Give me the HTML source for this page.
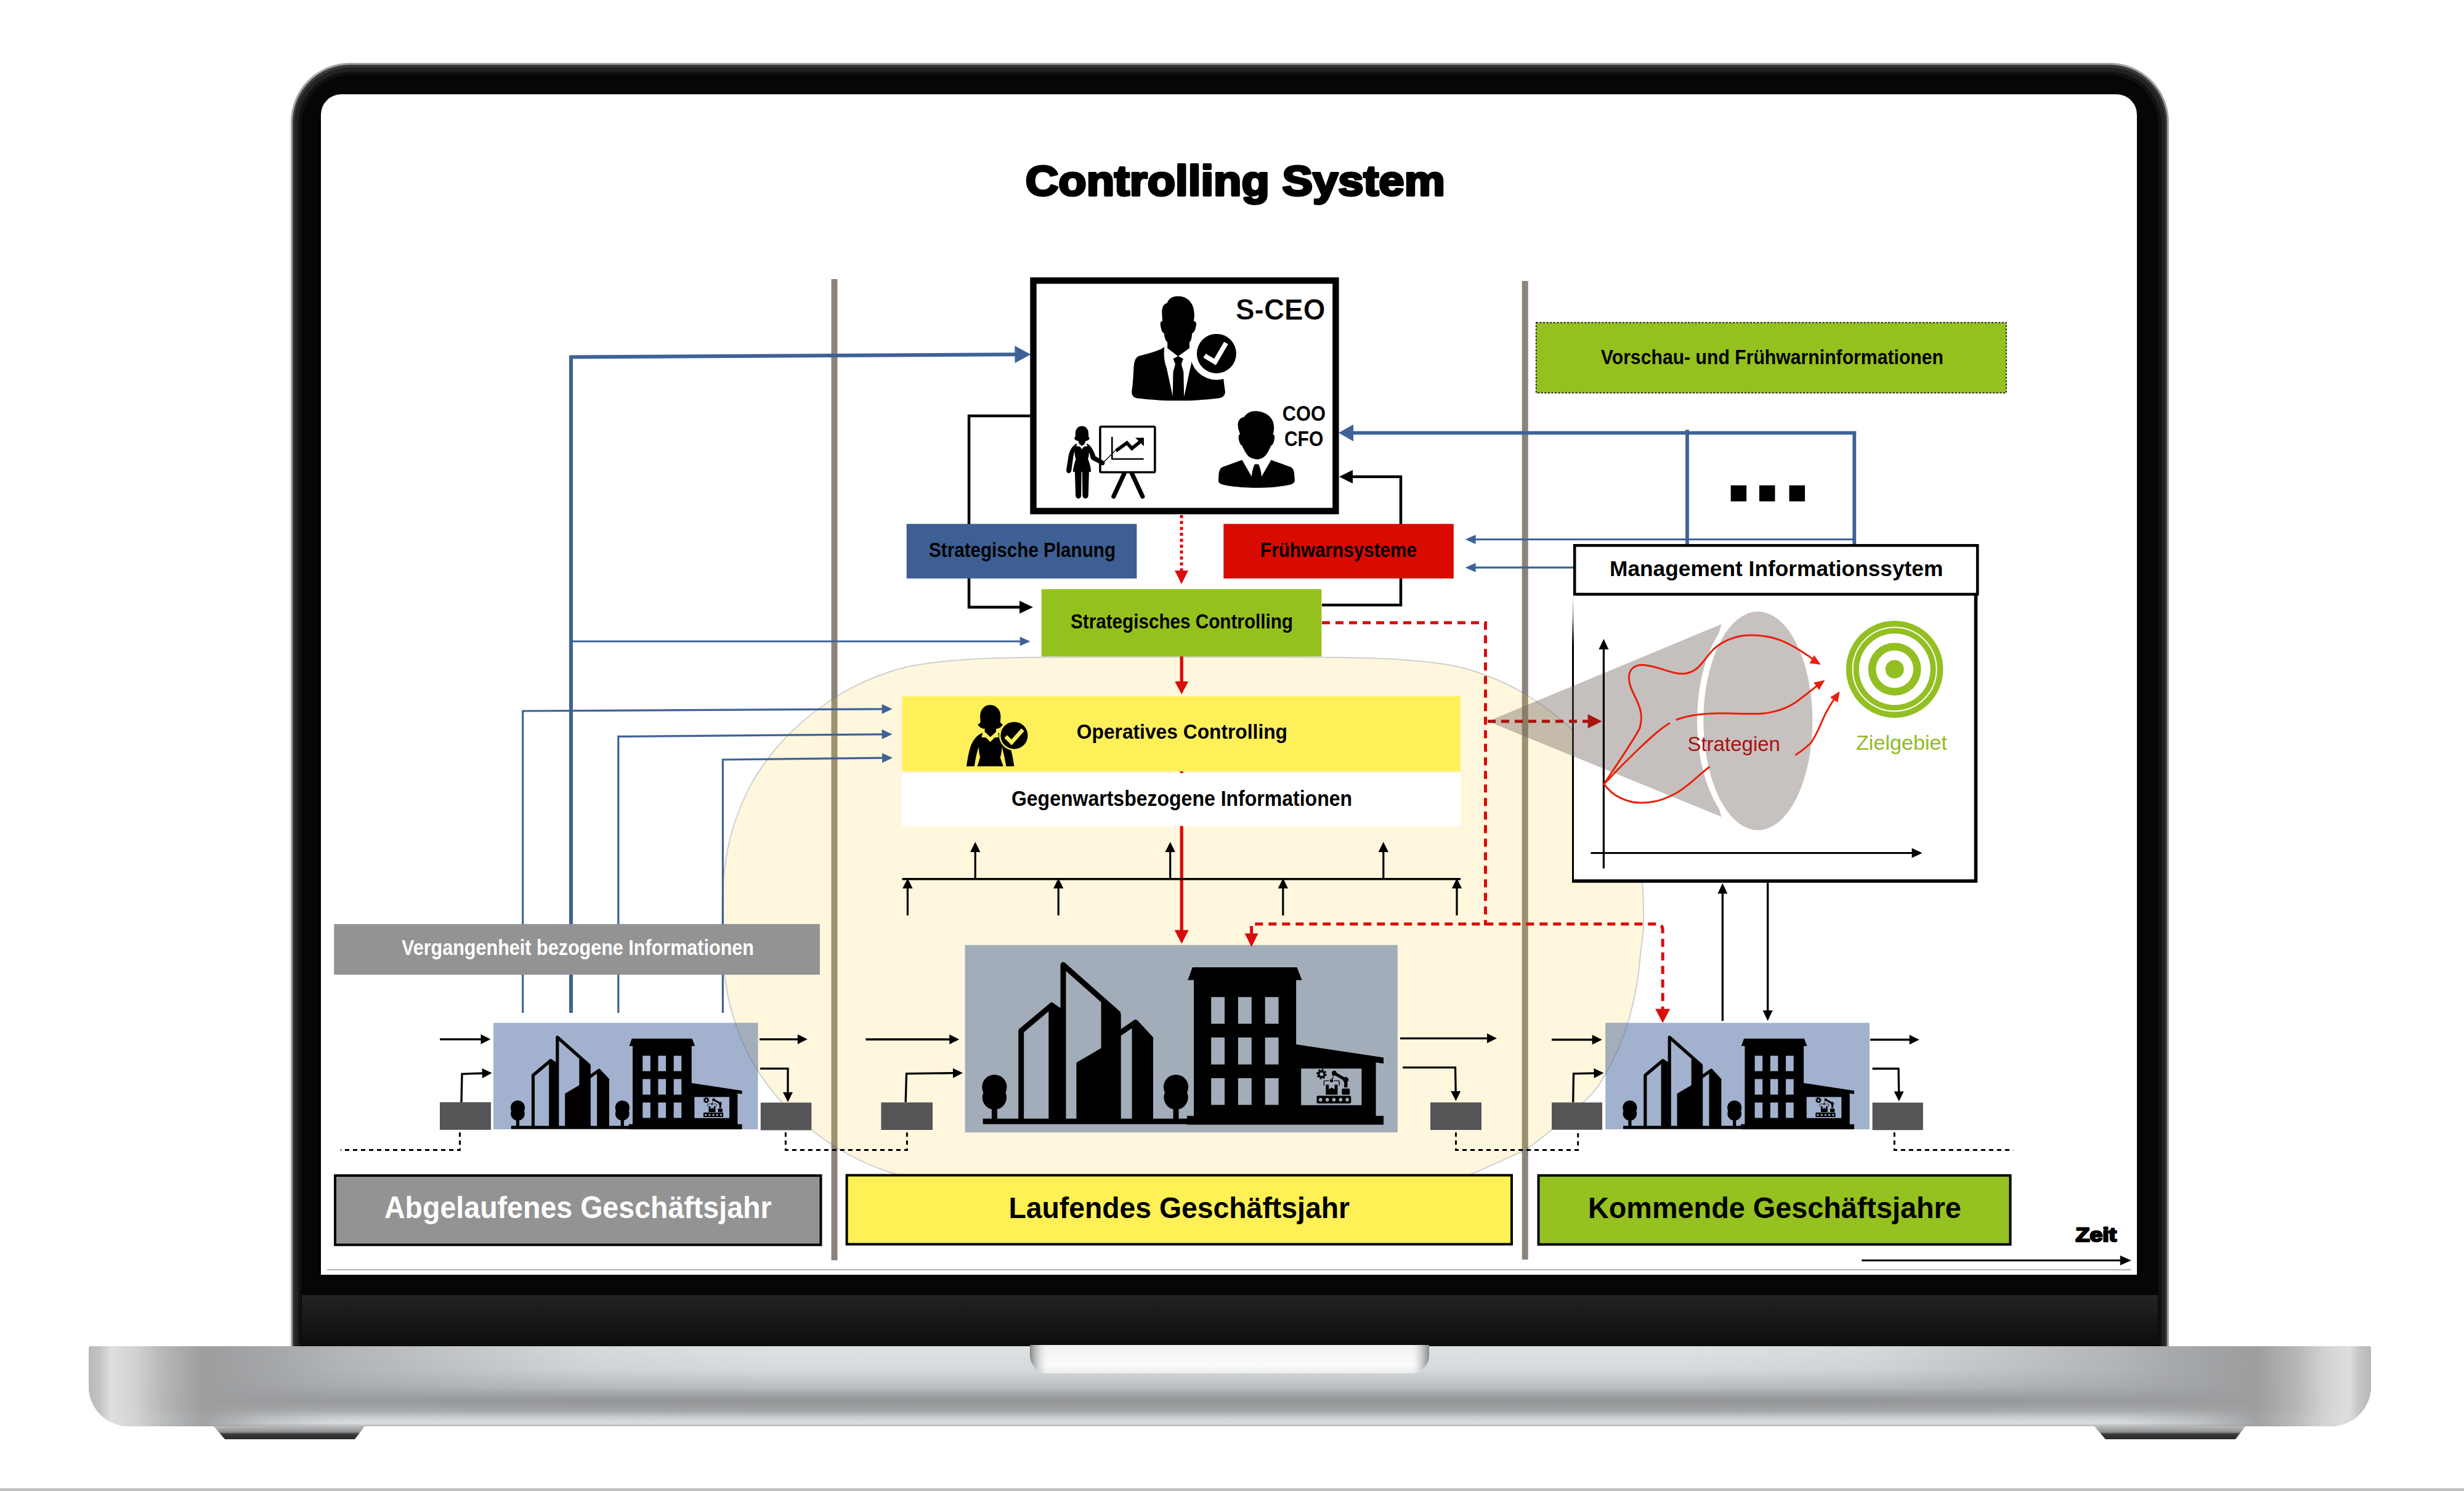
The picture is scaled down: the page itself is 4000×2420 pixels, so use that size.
<!DOCTYPE html>
<html lang="de">
<head>
<meta charset="utf-8">
<title>Controlling System</title>
<style>
html,body{margin:0;padding:0;background:#fff;}
body{width:4000px;height:2420px;overflow:hidden;position:relative;font-family:"Liberation Sans",sans-serif;}
svg{position:absolute;left:0;top:0;display:block;}
text{font-family:"Liberation Sans",sans-serif;}
.b{font-weight:bold;}
</style>
</head>
<body>
<svg width="4000" height="2420" viewBox="0 0 4000 2420">
<defs>
  <linearGradient id="baseV" x1="0" y1="0" x2="0" y2="1">
    <stop offset="0" stop-color="#a2a4a6"/>
    <stop offset="0.45" stop-color="#a3a5a7"/>
    <stop offset="0.70" stop-color="#9b9d9f"/>
    <stop offset="0.80" stop-color="#a9abad"/>
    <stop offset="0.90" stop-color="#cdd0d2"/>
    <stop offset="0.965" stop-color="#d9dcde"/>
    <stop offset="1" stop-color="#b4b6b8"/>
  </linearGradient>
  <linearGradient id="baseTop" x1="0" y1="0" x2="0" y2="1">
    <stop offset="0" stop-color="#dfe2e3" stop-opacity="1"/>
    <stop offset="0.30" stop-color="#d6d9db" stop-opacity="1"/>
    <stop offset="0.52" stop-color="#c2c5c7" stop-opacity="0.75"/>
    <stop offset="0.66" stop-color="#8e9092" stop-opacity="0.55"/>
    <stop offset="0.80" stop-color="#8e9092" stop-opacity="0.25"/>
    <stop offset="0.88" stop-color="#8e9092" stop-opacity="0"/>
  </linearGradient>
  <linearGradient id="hmGrad" x1="0" y1="0" x2="1" y2="0">
    <stop offset="0.05" stop-color="#000"/>
    <stop offset="0.12" stop-color="#555"/>
    <stop offset="0.22" stop-color="#ddd"/>
    <stop offset="0.30" stop-color="#fff"/>
    <stop offset="0.70" stop-color="#fff"/>
    <stop offset="0.78" stop-color="#ddd"/>
    <stop offset="0.88" stop-color="#555"/>
    <stop offset="0.95" stop-color="#000"/>
  </linearGradient>
  <mask id="hm" maskUnits="userSpaceOnUse" x="144" y="2185" width="3705" height="130"><rect x="144" y="2185" width="3705" height="130" fill="url(#hmGrad)"/></mask>
  <linearGradient id="baseH" x1="0" y1="0" x2="1" y2="0">
    <stop offset="0" stop-color="#b6b8ba" stop-opacity="1"/>
    <stop offset="0.005" stop-color="#c2c4c6" stop-opacity="1"/>
    <stop offset="0.0095" stop-color="#dcdee0" stop-opacity="1"/>
    <stop offset="0.020" stop-color="#d3d5d7" stop-opacity="0.95"/>
    <stop offset="0.034" stop-color="#b4b6b8" stop-opacity="0.9"/>
    <stop offset="0.050" stop-color="#9b9d9f" stop-opacity="0.9"/>
    <stop offset="0.075" stop-color="#9b9d9f" stop-opacity="0.4"/>
    <stop offset="0.11" stop-color="#9b9d9f" stop-opacity="0"/>
    <stop offset="0.89" stop-color="#9b9d9f" stop-opacity="0"/>
    <stop offset="0.925" stop-color="#9b9d9f" stop-opacity="0.4"/>
    <stop offset="0.950" stop-color="#9b9d9f" stop-opacity="0.9"/>
    <stop offset="0.966" stop-color="#b4b6b8" stop-opacity="0.9"/>
    <stop offset="0.980" stop-color="#d3d5d7" stop-opacity="0.95"/>
    <stop offset="0.9905" stop-color="#dcdee0" stop-opacity="1"/>
    <stop offset="0.995" stop-color="#c2c4c6" stop-opacity="1"/>
    <stop offset="1" stop-color="#b6b8ba" stop-opacity="1"/>
  </linearGradient>
  <linearGradient id="bezelV" x1="0" y1="0" x2="0" y2="1">
    <stop offset="0" stop-color="#232323"/>
    <stop offset="1" stop-color="#0c0c0c"/>
  </linearGradient>
  <linearGradient id="notchV" x1="0" y1="0" x2="0" y2="1">
    <stop offset="0" stop-color="#f1f2f3"/>
    <stop offset="0.7" stop-color="#fbfbfb"/>
    <stop offset="1" stop-color="#eceeef"/>
  </linearGradient>
  <linearGradient id="notchH" x1="0" y1="0" x2="1" y2="0">
    <stop offset="0" stop-color="#77797b" stop-opacity="0.9"/>
    <stop offset="0.045" stop-color="#e4e5e6" stop-opacity="0"/>
    <stop offset="0.955" stop-color="#e4e5e6" stop-opacity="0"/>
    <stop offset="1" stop-color="#77797b" stop-opacity="0.9"/>
  </linearGradient>
  <linearGradient id="footV" x1="0" y1="0" x2="0" y2="1">
    <stop offset="0" stop-color="#b9bbbd"/>
    <stop offset="0.45" stop-color="#8b8d8f"/>
    <stop offset="0.6" stop-color="#3a3a3c"/>
    <stop offset="1" stop-color="#2a2a2c"/>
  </linearGradient>
  <clipPath id="screenClip"><path d="M521,2069 V186 a33,33 0 0 1 33,-33 H3436 a33,33 0 0 1 33,33 V2069 Z"/></clipPath>

  <!-- building artwork in big-crop coordinates -->
  <g id="robot">
    <rect x="505" y="835" width="595" height="133" rx="22" fill="#000"/>
    <g fill="currentColor"><circle cx="572" cy="904" r="30"/><circle cx="688" cy="904" r="30"/><circle cx="803" cy="904" r="30"/><circle cx="918" cy="904" r="30"/><circle cx="1033" cy="904" r="30"/></g>
    <rect x="663" y="645" width="204" height="172" rx="8" fill="#000"/>
    <path d="M715,640 H815 V722 L765,695 L715,722 Z" fill="currentColor"/>
    <path d="M632,652 V592 Q632,576 648,576 H712 M812,576 H880 Q896,576 896,592 V652" fill="none" stroke="#000" stroke-width="15" stroke-linecap="round"/>
    <rect x="940" y="712" width="138" height="105" rx="22" fill="#000"/>
    <rect x="981" y="600" width="56" height="92" fill="#000"/>
    <circle cx="1008" cy="560" r="48" fill="#000"/>
    <path d="M1008,560 L808,445" stroke="#000" stroke-width="52"/>
    <circle cx="808" cy="445" r="42" fill="#000"/>
    <path d="M798,478 L770,560" stroke="#000" stroke-width="20" stroke-dasharray="26 18"/>
    <circle cx="762" cy="576" r="29" fill="#000"/>
    <circle cx="590" cy="462" r="72" fill="none" stroke="#000" stroke-width="34" stroke-dasharray="30 26.500"/>
    <circle cx="590" cy="462" r="50" fill="none" stroke="#000" stroke-width="36"/>
  </g>
  <g id="bld">
    <rect x="483" y="707" width="760" height="20" fill="#000"/>
    <rect x="1225" y="697" width="715" height="32" fill="#000"/>
    <!-- trees -->
    <g fill="#000">
      <circle cx="525" cy="592" r="45"/><circle cx="525" cy="630" r="44"/><rect x="515" y="660" width="20" height="50"/>
      <circle cx="1185" cy="592" r="45"/><circle cx="1185" cy="630" r="44"/><rect x="1175" y="660" width="20" height="50"/>
    </g>
    <!-- skyscraper 1 -->
    <path d="M622,712 V388 L733,295 L770,322" fill="none" stroke="#000" stroke-width="20" stroke-linejoin="round"/>
    <path d="M722,300 L733,284 L776,312 V712 H722 Z" fill="#000"/>
    <!-- skyscraper 2 -->
    <path d="M775,712 V148 L978,328" fill="none" stroke="#000" stroke-width="20" stroke-linejoin="round"/>
    <path d="M913,262 L985,326 V712 H913 Z" fill="#000"/>
    <path d="M826,505 L915,453 V712 H826 Z" fill="#000" stroke="#000" stroke-width="6" stroke-linejoin="round"/>
    <!-- skyscraper 3 -->
    <path d="M983,395 L1038,357 L1093,416" fill="none" stroke="#000" stroke-width="20" stroke-linejoin="round" stroke-linecap="round"/>
    <path d="M1025,362 L1038,350 L1102,416 V712 H1025 Z" fill="#000"/>
    <!-- main building -->
    <path d="M1245,157 H1625 L1643,203 H1228 Z" fill="#000"/>
    <rect x="1250" y="200" width="372" height="505" fill="#000"/>
    <g fill="currentColor">
      <rect x="1313" y="265" width="49" height="97"/><rect x="1411" y="265" width="49" height="97"/><rect x="1509" y="265" width="49" height="97"/>
      <rect x="1313" y="412" width="49" height="98"/><rect x="1411" y="412" width="49" height="98"/><rect x="1509" y="412" width="49" height="98"/>
      <rect x="1313" y="560" width="49" height="97"/><rect x="1411" y="560" width="49" height="97"/><rect x="1509" y="560" width="49" height="97"/>
    </g>
    <!-- annex -->
    <path d="M1620,437 L1940,485 V507 L1912,503 V700 H1620 Z" fill="#000"/>
    <rect x="1640" y="525" width="220" height="133" fill="currentColor"/>
    <use href="#robot" transform="translate(1590.400,448) scale(0.21039)"/>
  </g>
  <clipPath id="smallBoxes"><rect x="801" y="1660.200" width="429.400" height="172.800"/><rect x="2606.300" y="1660.200" width="428.700" height="172.800"/></clipPath>
  <path id="blob" d="M1920.2,1066.5 C1960.2,1066.5 2001.9,1066.5 2040.2,1066.5 C2078.6,1066.5 2113.9,1066.2 2150.2,1066.7 C2186.6,1067.2 2224.8,1067.4 2258.2,1069.5 C2291.8,1071.6 2325.6,1074.7 2351.2,1079.1 C2376.9,1083.5 2391.8,1088.3 2412.2,1096.0 C2432.8,1103.7 2453.6,1113.2 2474.2,1125.5 C2494.9,1137.8 2518.2,1154.9 2536.2,1170.1 C2554.2,1185.3 2567.9,1199.0 2582.2,1216.5 C2596.6,1234.0 2610.9,1253.9 2622.2,1274.9 C2633.6,1296.0 2643.2,1320.2 2650.2,1342.8 C2657.2,1365.4 2661.2,1385.1 2664.2,1410.7 C2667.2,1436.3 2668.2,1475.1 2668.2,1496.5 C2668.2,1517.9 2666.1,1522.1 2664.2,1539.0 C2662.4,1555.9 2660.7,1578.3 2657.2,1598.0 C2653.8,1617.7 2648.4,1640.4 2643.7,1657.1 C2638.9,1673.8 2634.8,1684.6 2628.8,1698.4 C2622.9,1712.2 2616.1,1726.4 2608.2,1739.7 C2600.4,1753.0 2596.7,1762.4 2581.7,1778.1 C2566.7,1793.8 2535.2,1819.8 2518.2,1834.1 C2501.3,1848.4 2492.9,1855.6 2479.8,1863.7 C2466.8,1871.8 2456.0,1875.6 2440.1,1882.8 C2424.1,1890.0 2399.1,1901.9 2384.2,1907.0 C2369.4,1912.1 2372.2,1910.8 2351.2,1913.5 C2330.2,1916.2 2291.8,1921.4 2258.2,1923.5 C2224.8,1925.6 2186.6,1925.8 2150.2,1926.3 C2113.9,1926.8 2078.6,1926.5 2040.2,1926.5 C2001.9,1926.5 1960.2,1926.5 1920.2,1926.5 C1880.2,1926.5 1838.6,1926.5 1800.2,1926.5 C1761.9,1926.5 1726.6,1926.8 1690.2,1926.3 C1653.9,1925.8 1615.8,1925.6 1582.2,1923.5 C1548.8,1921.4 1514.9,1918.3 1489.2,1913.9 C1463.6,1909.5 1448.8,1904.7 1428.2,1897.0 C1407.8,1889.3 1386.9,1879.8 1366.2,1867.5 C1345.6,1855.2 1322.2,1838.1 1304.2,1822.9 C1286.2,1807.7 1272.6,1794.0 1258.2,1776.5 C1243.9,1759.0 1229.6,1739.1 1218.2,1718.1 C1206.9,1697.0 1197.2,1672.8 1190.2,1650.2 C1183.2,1627.6 1179.2,1607.9 1176.2,1582.3 C1173.2,1556.7 1172.2,1525.1 1172.2,1496.5 C1172.2,1467.9 1173.2,1436.3 1176.2,1410.7 C1179.2,1385.1 1183.2,1365.4 1190.2,1342.8 C1197.2,1320.2 1206.9,1296.0 1218.2,1274.9 C1229.6,1253.9 1243.9,1234.0 1258.2,1216.5 C1272.6,1199.0 1286.2,1185.3 1304.2,1170.1 C1322.2,1154.9 1345.6,1137.8 1366.2,1125.5 C1386.9,1113.2 1407.8,1103.7 1428.2,1096.0 C1448.8,1088.3 1463.6,1083.5 1489.2,1079.1 C1514.9,1074.7 1548.8,1071.6 1582.2,1069.5 C1615.8,1067.4 1653.9,1067.2 1690.2,1066.7 C1726.6,1066.2 1761.9,1066.5 1800.2,1066.5 C1838.6,1066.5 1880.2,1066.5 1920.2,1066.5 Z"/>
  <linearGradient id="fadeV" x1="0" y1="0" x2="0" y2="1"><stop offset="0" stop-color="#000" stop-opacity="0.05"/><stop offset="0.06" stop-color="#000" stop-opacity="0.25"/><stop offset="0.16" stop-color="#000" stop-opacity="1"/><stop offset="1" stop-color="#000" stop-opacity="1"/></linearGradient>
</defs>

<!-- ============ LAPTOP ============ -->
<g id="laptop">
  <!-- lid -->
  <path d="M472,2192 V198 a96,96 0 0 1 96,-96 H3425 a96,96 0 0 1 96,96 V2192 Z" fill="#a4a4a4"/>
  <path d="M475,2192 V198.500 a93.500,93.500 0 0 1 93.500,-93.500 H3424.500 a93.500,93.500 0 0 1 93.500,93.500 V2192 Z" fill="#3a3a3a"/>
  <path d="M478,2192 V200 a90.500,90.500 0 0 1 90.500,-90.500 H3424.500 a90.500,90.500 0 0 1 90.500,90.500 V2192 Z" fill="#222222"/>
  <path d="M484,2192 V202 a86,86 0 0 1 86,-86 H3423 a86,86 0 0 1 86,86 V2192 Z" fill="#111111"/>
  <path d="M489,2192 V204 a83,83 0 0 1 83,-83 H3421 a83,83 0 0 1 83,83 V2192 Z" fill="#060606"/>
  <!-- lower bezel -->
  <path d="M490,2102 H3503 V2188 H504 a14,14 0 0 1 -14,-14 Z" fill="url(#bezelV)"/>
  <!-- screen -->
  <path d="M521,2069 V186 a33,33 0 0 1 33,-33 H3436 a33,33 0 0 1 33,33 V2069 Z" fill="#ffffff"/>
  <!-- base -->
  <path d="M148,2185 H3845 a4,4 0 0 1 4,4 V2250 a65,65 0 0 1 -65,65 H209 a65,65 0 0 1 -65,-65 V2189 a4,4 0 0 1 4,-4 Z" fill="url(#baseV)"/>
  <g mask="url(#hm)"><path d="M148,2185 H3845 a4,4 0 0 1 4,4 V2250 a65,65 0 0 1 -65,65 H209 a65,65 0 0 1 -65,-65 V2189 a4,4 0 0 1 4,-4 Z" fill="url(#baseTop)"/></g>
  <path d="M148,2185 H3845 a4,4 0 0 1 4,4 V2250 a65,65 0 0 1 -65,65 H209 a65,65 0 0 1 -65,-65 V2189 a4,4 0 0 1 4,-4 Z" fill="url(#baseH)"/>
  <!-- notch -->
  <path d="M1672,2183 H2320 V2200 a29,29 0 0 1 -29,29 H1701 a29,29 0 0 1 -29,-29 Z" fill="url(#notchV)"/>
  <path d="M1672,2183 H2320 V2200 a29,29 0 0 1 -29,29 H1701 a29,29 0 0 1 -29,-29 Z" fill="url(#notchH)"/>
  <!-- feet -->
  <path d="M347,2315 H592 L576,2336 H365 Z" fill="url(#footV)"/>
  <path d="M3400,2315 H3645 L3629,2336 H3418 Z" fill="url(#footV)"/>
  <!-- bottom page line -->
  <rect x="0" y="2415.500" width="4000" height="4.500" fill="#bfbfbf"/>
</g>

<!-- ============ SCREEN CONTENT ============ -->
<g id="content" clip-path="url(#screenClip)">

<!-- vertical separators -->
<rect x="1349.500" y="453" width="10" height="1592.500" fill="#8b847d"/>
<rect x="2470.700" y="456" width="10" height="1588.500" fill="#8b847d"/>
<!-- small building boxes -->
<rect x="801" y="1660.200" width="429.400" height="172.800" fill="#a2b1cd"/>
<rect x="2606.300" y="1660.200" width="428.700" height="172.800" fill="#a2b1cd"/>


<!-- big translucent yellow area -->
<use href="#blob" fill="#facd37" fill-opacity="0.165"/>
<g clip-path="url(#smallBoxes)"><use href="#blob" fill="#a3aeba"/></g>
<use href="#blob" fill="none" stroke="#5d6f8c" stroke-opacity="0.30" stroke-width="2"/>
<g color="#a2b1cd" transform="translate(705.400,1645.400) scale(0.25730)"><use href="#bld"/></g>
<g color="#a2b1cd" transform="translate(2510.800,1645.400) scale(0.25730)"><use href="#bld"/></g>

<!-- lines that run beneath boxes -->
<path d="M927,1644 L927,579.4 L1648.4,575.3" fill="none" stroke="#3f6296" stroke-width="6" stroke-linejoin="miter"/>
<path d="M1673.4,575.2 L1647.5,589.3 L1647.3,561.3 Z" fill="#3f6296"/>
<path d="M928,1041 L1656.6,1041" fill="none" stroke="#3f6296" stroke-width="3.2" stroke-linejoin="miter"/>
<path d="M1672.6,1041 L1655.6,1048.5 L1655.6,1033.5 Z" fill="#3f6296"/>
<path d="M848.7,1644 L848.7,1154 L1432.6,1150.8" fill="none" stroke="#3f6296" stroke-width="3.2" stroke-linejoin="miter"/>
<path d="M1448.6,1150.7 L1431.6,1158.8 L1431.6,1142.8 Z" fill="#3f6296"/>
<path d="M1003.8,1644 L1003.8,1195.4 L1432.6,1191.8" fill="none" stroke="#3f6296" stroke-width="3.2" stroke-linejoin="miter"/>
<path d="M1448.6,1191.7 L1431.7,1199.8 L1431.5,1183.8 Z" fill="#3f6296"/>
<path d="M1173.4,1644 L1173.4,1233 L1433,1230.2" fill="none" stroke="#3f6296" stroke-width="3.2" stroke-linejoin="miter"/>
<path d="M1449,1230 L1432.1,1238.2 L1431.9,1222.2 Z" fill="#3f6296"/>
<path d="M1673,675 L1573,675 L1573,985.5 L1656,985.5" fill="none" stroke="#000" stroke-width="4.5" stroke-linejoin="miter"/>
<path d="M1677,985.5 L1655,996 L1655,975 Z" fill="#000"/>
<path d="M2146,982 L2274,982 L2274,773.7 L2195,773.7" fill="none" stroke="#000" stroke-width="4.5" stroke-linejoin="miter"/>
<path d="M2174,773.7 L2196,762.7 L2196,784.7 Z" fill="#000"/>
<path d="M1918.2,1060 V1108 M1918.2,1250 V1511" stroke="#da0b0b" stroke-width="5.3" fill="none"/>
<path d="M2739,697.500 V886 M3010.3,700 V886" stroke="#3f6296" stroke-width="5.8" fill="none"/>
<path d="M3013.2,702.6 L2196,702.6" fill="none" stroke="#3f6296" stroke-width="5.8" stroke-linejoin="miter"/>
<path d="M2173,702.6 L2197,689 L2197,716.2 Z" fill="#3f6296"/>
<path d="M3010,875.5 L2394.6,875.5" fill="none" stroke="#3f6296" stroke-width="3.2" stroke-linejoin="miter"/>
<path d="M2378.6,875.5 L2395.6,868 L2395.6,883 Z" fill="#3f6296"/>
<path d="M2556,921.2 L2394.6,921.2" fill="none" stroke="#3f6296" stroke-width="3.2" stroke-linejoin="miter"/>
<path d="M2378.6,921.2 L2395.6,913.7 L2395.6,928.7 Z" fill="#3f6296"/>
<!-- ===== boxes ===== -->
<!-- CEO box -->
<rect x="1677.500" y="455.400" width="490.900" height="374.100" fill="#fff" stroke="#000" stroke-width="10.400"/>
<!-- Strategische Planung / Fruehwarnsysteme / Strategisches Controlling -->
<rect x="1471.700" y="850.300" width="373.700" height="88.600" fill="#3d5f93"/>
<rect x="1986.300" y="850.300" width="373.500" height="88.600" fill="#d90b00"/>
<rect x="1690.800" y="956.200" width="454.600" height="109.300" fill="#95c11f"/>
<!-- Operatives Controlling + Gegenwart -->
<rect x="1464.500" y="1130.200" width="906.400" height="121.800" fill="#fff05a"/>
<rect x="1464.500" y="1254.700" width="906.400" height="86" fill="#ffffff"/>
<!-- Vorschau box -->
<rect x="2493.700" y="523.600" width="763.300" height="114" fill="#95c11f" stroke="#111" stroke-width="1.600" stroke-dasharray="3.200 2.400"/>
<!-- Vergangenheit -->
<rect x="542.300" y="1499.800" width="788.600" height="82.200" fill="#939393"/>
<!-- centre building box -->
<rect x="1566.600" y="1533.800" width="702.200" height="304.200" fill="#a2adb9"/>
<g color="#a2adb9" transform="translate(1380,1500) scale(0.44643)"><use href="#bld"/></g>
<!-- dark grey stock boxes -->
<g fill="#555557">
  <rect x="714" y="1789" width="83" height="44.800"/>
  <rect x="1234.800" y="1789.600" width="82.600" height="44.800"/>
  <rect x="1430.400" y="1789.300" width="83.600" height="44.700"/>
  <rect x="2322" y="1789.300" width="83" height="44.700"/>
  <rect x="2519" y="1789.400" width="82" height="44.300"/>
  <rect x="3039.600" y="1789.600" width="82.200" height="44.600"/>
</g>
<!-- year boxes -->
<rect x="544" y="1908" width="788.500" height="112.500" fill="#939393" stroke="#000" stroke-width="4"/>
<rect x="1374.600" y="1907.500" width="1079.400" height="112" fill="#fff056" stroke="#000" stroke-width="4"/>
<rect x="2497.500" y="1907.800" width="766" height="112" fill="#95c121" stroke="#000" stroke-width="4"/>
<!-- MIS chart box -->
<rect x="2553" y="966" width="654.500" height="464" fill="#fff"/>
<rect x="2552" y="972" width="3" height="460" fill="url(#fadeV)"/>
<path d="M2552,1430 H3210 M3207.500,1432.500 V960" stroke="#000" stroke-width="5.500" fill="none"/>
<!-- cone + lens -->
<path d="M2415.400,1170.700 L2794.600,1013 Q2745,1170 2794.600,1325.700 Z" fill="#6f625d" fill-opacity="0.40"/>
<ellipse cx="2843.500" cy="1170" rx="88.500" ry="177.500" fill="#fff"/>
<ellipse cx="2853.800" cy="1170" rx="88.500" ry="177.500" fill="#c7c1bf"/>
<!-- MIS title box -->
<rect x="2556.200" y="885.300" width="654" height="79.200" fill="#fff" stroke="#000" stroke-width="4.600"/>
<!-- screen bottom hairline -->
<rect x="531" y="2059.800" width="2929" height="2.200" fill="#b4b4b4"/>

<!-- ===== lines & arrows ===== -->
<path d="M1918.2,1127 L1907.2,1106 H1929.2 Z M1918.2,1531.700 L1906.700,1509.500 H1929.700 Z" fill="#da0b0b"/>
<path d="M1918,836 L1918,927" fill="none" stroke="#da0b0b" stroke-width="5" stroke-linejoin="miter" stroke-dasharray="5 4.6"/>
<path d="M1918,948 L1907,926 L1929,926 Z" fill="#da0b0b"/>
<path d="M2146,1010.700 H2411.500 V1502" fill="none" stroke="#da0b0b" stroke-width="5" stroke-dasharray="13 9"/>
<path d="M2031.600,1516 V1499.700 H2689 Q2699.200,1499.700 2699.200,1510 V1639" fill="none" stroke="#da0b0b" stroke-width="5" stroke-dasharray="13 9"/>
<path d="M2031.600,1537 L2020.600,1515 H2042.600 Z M2699.200,1660.300 L2687.200,1637.500 H2711.200 Z" fill="#da0b0b"/>
<path d="M2415,1170.7 L2578.6,1170.7" fill="none" stroke="#a8140f" stroke-width="5" stroke-linejoin="miter" stroke-dasharray="13 9"/>
<path d="M2600.6,1170.7 L2577.6,1182.2 L2577.6,1159.2 Z" fill="#a8140f"/>
<path d="M2796.4,1657 L2796.4,1449.5" fill="none" stroke="#000" stroke-width="3.4" stroke-linejoin="miter"/>
<path d="M2796.4,1433.5 L2804.4,1450.5 L2788.4,1450.5 Z" fill="#000"/>
<path d="M2869.7,1433 L2869.7,1641" fill="none" stroke="#000" stroke-width="3.4" stroke-linejoin="miter"/>
<path d="M2869.7,1657 L2861.7,1640 L2877.7,1640 Z" fill="#000"/>
<path d="M2603.4,1409.4 L2603.4,1053" fill="none" stroke="#000" stroke-width="3.2" stroke-linejoin="miter"/>
<path d="M2603.4,1037 L2611.4,1054 L2595.4,1054 Z" fill="#000"/>
<path d="M2582.5,1384.5 L3104.6,1384.5" fill="none" stroke="#000" stroke-width="3.2" stroke-linejoin="miter"/>
<path d="M3120.6,1384.5 L3103.6,1392.5 L3103.6,1376.5 Z" fill="#000"/>
<path d="M3022.3,2045.7 L3442.8,2045.7" fill="none" stroke="#000" stroke-width="3" stroke-linejoin="miter"/>
<path d="M3459.8,2045.7 L3441.8,2053.7 L3441.8,2037.7 Z" fill="#000"/>
<path d="M1464.500,1426.700 H2371" stroke="#000" stroke-width="3.400" fill="none"/>
<path d="M1583.2,1428 L1583.2,1382" fill="none" stroke="#000" stroke-width="3.2" stroke-linejoin="miter"/>
<path d="M1583.2,1366.5 L1591.4,1383 L1575,1383 Z" fill="#000"/>
<path d="M1899.7,1428 L1899.7,1382" fill="none" stroke="#000" stroke-width="3.2" stroke-linejoin="miter"/>
<path d="M1899.7,1366.5 L1907.9,1383 L1891.5,1383 Z" fill="#000"/>
<path d="M2245.8,1428 L2245.8,1382" fill="none" stroke="#000" stroke-width="3.2" stroke-linejoin="miter"/>
<path d="M2245.8,1366.5 L2254,1383 L2237.6,1383 Z" fill="#000"/>
<path d="M1473.4,1485.8 L1473.4,1441" fill="none" stroke="#000" stroke-width="3.2" stroke-linejoin="miter"/>
<path d="M1473.4,1425.5 L1481.6,1442 L1465.2,1442 Z" fill="#000"/>
<path d="M1718.2,1485.8 L1718.2,1441" fill="none" stroke="#000" stroke-width="3.2" stroke-linejoin="miter"/>
<path d="M1718.2,1425.5 L1726.4,1442 L1710,1442 Z" fill="#000"/>
<path d="M2082.8,1485.8 L2082.8,1441" fill="none" stroke="#000" stroke-width="3.2" stroke-linejoin="miter"/>
<path d="M2082.8,1425.5 L2091,1442 L2074.6,1442 Z" fill="#000"/>
<path d="M2365,1485.8 L2365,1441" fill="none" stroke="#000" stroke-width="3.2" stroke-linejoin="miter"/>
<path d="M2365,1425.5 L2373.2,1442 L2356.8,1442 Z" fill="#000"/>
<path d="M714,1686.8 L781.5,1686.8" fill="none" stroke="#000" stroke-width="3.3" stroke-linejoin="miter"/>
<path d="M796.5,1686.8 L780.5,1694.8 L780.5,1678.8 Z" fill="#000"/>
<path d="M749,1789 L750,1743 L783.7,1742" fill="none" stroke="#000" stroke-width="3.3" stroke-linejoin="miter"/>
<path d="M798.7,1741.6 L782.9,1750.1 L782.5,1734.1 Z" fill="#000"/>
<path d="M1233,1686.8 L1295.8,1686.8" fill="none" stroke="#000" stroke-width="3.3" stroke-linejoin="miter"/>
<path d="M1310.8,1686.8 L1294.8,1694.8 L1294.8,1678.8 Z" fill="#000"/>
<path d="M1234,1734.3 L1279,1734.3 L1279,1773.7" fill="none" stroke="#000" stroke-width="3.3" stroke-linejoin="miter"/>
<path d="M1279,1788.7 L1271,1772.7 L1287,1772.7 Z" fill="#000"/>
<path d="M1405.4,1687 L1542.2,1687" fill="none" stroke="#000" stroke-width="3.3" stroke-linejoin="miter"/>
<path d="M1557.2,1687 L1541.2,1695 L1541.2,1679 Z" fill="#000"/>
<path d="M1470.2,1789 L1471.5,1742.6 L1548,1741.7" fill="none" stroke="#000" stroke-width="3.3" stroke-linejoin="miter"/>
<path d="M1563,1741.5 L1547.1,1749.7 L1546.9,1733.7 Z" fill="#000"/>
<path d="M2272.9,1685.3 L2415,1685.3" fill="none" stroke="#000" stroke-width="3.3" stroke-linejoin="miter"/>
<path d="M2430,1685.3 L2414,1693.3 L2414,1677.3 Z" fill="#000"/>
<path d="M2277.3,1732.6 L2362.5,1732.6 L2363.2,1772" fill="none" stroke="#000" stroke-width="3.3" stroke-linejoin="miter"/>
<path d="M2363.5,1787 L2355.2,1771.1 L2371.2,1770.9 Z" fill="#000"/>
<path d="M2519,1687.5 L2585.7,1687.5" fill="none" stroke="#000" stroke-width="3.3" stroke-linejoin="miter"/>
<path d="M2600.7,1687.5 L2584.7,1695.5 L2584.7,1679.5 Z" fill="#000"/>
<path d="M2553.7,1789 L2554.5,1742.6 L2588.5,1741.8" fill="none" stroke="#000" stroke-width="3.3" stroke-linejoin="miter"/>
<path d="M2603.5,1741.5 L2587.7,1749.9 L2587.3,1733.9 Z" fill="#000"/>
<path d="M3036,1687.5 L3100.7,1687.5" fill="none" stroke="#000" stroke-width="3.3" stroke-linejoin="miter"/>
<path d="M3115.7,1687.5 L3099.7,1695.5 L3099.7,1679.5 Z" fill="#000"/>
<path d="M3039.6,1734.5 L3082,1734.5 L3082.6,1772.5" fill="none" stroke="#000" stroke-width="3.3" stroke-linejoin="miter"/>
<path d="M3082.8,1787.5 L3074.6,1771.6 L3090.6,1771.4 Z" fill="#000"/>
<path d="M746.500,1838 V1866.500 H552.900" fill="none" stroke="#000" stroke-width="3" stroke-dasharray="7 6"/>
<path d="M1275.400,1838 V1866.500 H1472.400 V1838" fill="none" stroke="#000" stroke-width="3" stroke-dasharray="7 6"/>
<path d="M2363.500,1838 V1866.500 H2561.700 V1838" fill="none" stroke="#000" stroke-width="3" stroke-dasharray="7 6"/>
<path d="M3075.300,1838 V1866.400 H3268.300" fill="none" stroke="#000" stroke-width="3" stroke-dasharray="7 6"/>
<path d="M2809.700,787.800 h25.500 v26 h-25.500 Z M2856,787.800 h25.500 v26 h-25.500 Z M2904.600,787.800 h25.500 v26 h-25.500 Z" fill="#000"/>
<path d="M2604,1272.600 C2625,1240 2650,1205 2661.800,1182 C2672,1150 2650,1130 2645.700,1109.600 C2640,1085 2655,1078 2669.800,1079.400 C2695,1082 2715,1095 2734.200,1093.500 C2760,1090 2765,1070 2782.500,1053 C2800,1038 2820,1031 2842.900,1031 C2870,1031 2890,1038 2903.200,1045 C2925,1056 2938,1066 2948,1073.500" fill="none" stroke="#e8200c" stroke-width="3" stroke-linecap="round"/>
<path d="M2955.9,1078.7 L2937.5,1076.4 L2945.2,1063.5 Z" fill="#e8200c"/>
<path d="M2604,1272.600 C2625,1250 2645,1230 2661.800,1214 C2680,1197 2695,1183 2710,1174 M2722,1168 C2740,1161 2760,1158.500 2782.500,1157.900 C2810,1157 2840,1160 2863,1157.900 C2890,1155 2910,1145 2923.400,1133.700 C2936,1124 2946,1116 2954,1110" fill="none" stroke="#e8200c" stroke-width="3" stroke-linecap="round"/>
<path d="M2962.4,1103.9 L2953,1119.9 L2944.2,1107.7 Z" fill="#e8200c"/>
<path d="M2604,1272.600 C2612,1284 2620,1290 2629.600,1294.700 C2645,1302 2655,1303.500 2669.800,1302.800 C2690,1302 2705,1296 2722,1286.700 C2745,1273 2758,1257 2774.500,1245.200" fill="none" stroke="#e8200c" stroke-width="3" stroke-linecap="round"/>
<path d="M2915.300,1225 C2925,1219 2932,1213 2939.500,1206 C2950,1192 2955,1176 2963.600,1157.900 C2970,1146 2976,1137 2980,1131" fill="none" stroke="#e8200c" stroke-width="3" stroke-linecap="round"/>
<path d="M2986.5,1122 L2983.4,1140.3 L2970.9,1132 Z" fill="#e8200c"/>
<g><circle cx="3075.700" cy="1086.200" r="78.800" fill="#93bf22"/><circle cx="3075.700" cy="1086.200" r="58" fill="#fff"/><circle cx="3075.700" cy="1086.200" r="68" fill="none" stroke="#fff" stroke-width="2"/><circle cx="3075.700" cy="1086.200" r="42.900" fill="#93bf22"/><circle cx="3075.700" cy="1086.200" r="30.400" fill="#fff"/><circle cx="3075.700" cy="1086.200" r="15" fill="#93bf22"/></g>

<!-- ===== text ===== -->
<text x="1664.7" y="316.8" font-size="69" font-weight="bold" fill="#000" textLength="681.0" lengthAdjust="spacingAndGlyphs" stroke="#000" stroke-width="3.9" stroke-linejoin="round">Controlling System</text>
<text x="2006.0" y="518.8" font-size="48.5" font-weight="bold" fill="#000" textLength="145.4" lengthAdjust="spacingAndGlyphs" stroke="#fff" stroke-width="0.45">S-CEO</text>
<text x="2081.8" y="683.3" font-size="34.3" font-weight="bold" fill="#000" textLength="70.0" lengthAdjust="spacingAndGlyphs">COO</text>
<text x="2085.0" y="724.0" font-size="34.3" font-weight="bold" fill="#000" textLength="63.2" lengthAdjust="spacingAndGlyphs">CFO</text>
<text x="1508.0" y="904.0" font-size="33.6" font-weight="bold" fill="#000" textLength="303.0" lengthAdjust="spacingAndGlyphs">Strategische Planung</text>
<text x="2046.0" y="904.0" font-size="33.6" font-weight="bold" fill="#000" textLength="254.0" lengthAdjust="spacingAndGlyphs">Frühwarnsysteme</text>
<text x="1738.0" y="1019.7" font-size="33.4" font-weight="bold" fill="#000" textLength="361.0" lengthAdjust="spacingAndGlyphs">Strategisches Controlling</text>
<text x="2598.8" y="591.0" font-size="34.0" font-weight="bold" fill="#000" textLength="556.2" lengthAdjust="spacingAndGlyphs">Vorschau- und Frühwarninformationen</text>
<text x="2613.0" y="934.5" font-size="35.2" font-weight="bold" fill="#000" textLength="541.4" lengthAdjust="spacingAndGlyphs">Management Informationssytem</text>
<text x="1747.8" y="1199.3" font-size="33.9" font-weight="bold" fill="#000" textLength="342.2" lengthAdjust="spacingAndGlyphs">Operatives Controlling</text>
<text x="1641.9" y="1307.5" font-size="34.6" font-weight="bold" fill="#000" textLength="553.2" lengthAdjust="spacingAndGlyphs">Gegenwartsbezogene Informationen</text>
<text x="652.0" y="1549.7" font-size="34.2" font-weight="bold" fill="#fff" textLength="572.0" lengthAdjust="spacingAndGlyphs">Vergangenheit bezogene Informationen</text>
<text x="624.0" y="1977.2" font-size="49.4" font-weight="bold" fill="#fff" textLength="628.6" lengthAdjust="spacingAndGlyphs">Abgelaufenes Geschäftsjahr</text>
<text x="1637.4" y="1976.8" font-size="47.6" font-weight="bold" fill="#000" textLength="553.6" lengthAdjust="spacingAndGlyphs">Laufendes Geschäftsjahr</text>
<text x="2578.0" y="1977.2" font-size="49.0" font-weight="bold" fill="#000" textLength="605.8" lengthAdjust="spacingAndGlyphs">Kommende Geschäftsjahre</text>
<text x="3369.6" y="2014.7" font-size="32" font-weight="bold" fill="#000" textLength="66.4" lengthAdjust="spacingAndGlyphs" stroke="#000" stroke-width="2.6" stroke-linejoin="round">Zeit</text>
<text x="2739.4" y="1219.4" font-size="34.0" font-weight="normal" fill="#a51313" textLength="150.6" lengthAdjust="spacingAndGlyphs">Strategien</text>
<text x="3013.0" y="1217.4" font-size="34.0" font-weight="normal" fill="#8fbc24" textLength="148.0" lengthAdjust="spacingAndGlyphs">Zielgebiet</text>
<!-- ===== icons ===== -->
<!-- CEO -->
<g transform="translate(1820,470) scale(0.12747)">
  <path d="M550,730 C500,770 440,790 230,845 C180,860 165,920 160,1000 C155,1100 150,1200 135,1300 C135,1350 160,1375 200,1382 C400,1405 550,1415 725,1415 C900,1415 1050,1405 1250,1382 C1290,1375 1325,1350 1325,1300 C1310,1200 1300,1100 1290,1000 C1285,920 1270,860 1220,845 C1010,790 950,770 900,730 L870,745 L725,850 L590,745 Z" fill="#000"/>
  <path d="M550,728 C545,800 540,900 580,1000 L655,1350 L725,1400 L805,1350 L880,1000 C912,900 905,800 900,728 L870,745 L725,850 L590,745 Z" fill="#fff"/>
  <path d="M725,848 L792,880 L767,950 L795,1050 L802,1412 L655,1412 L663,1050 L690,950 L663,880 Z" fill="#000"/>
  <path d="M725,85 C640,85 600,130 585,172 C545,180 520,220 520,290 C520,330 525,370 527,400 C505,405 498,420 500,440 C505,500 520,550 548,558 C550,610 565,645 590,672 L590,745 L725,850 L870,745 L870,672 C895,645 900,610 903,558 C935,550 950,500 957,440 C958,420 950,405 925,400 C930,370 935,330 930,290 C925,180 850,85 725,85 Z" fill="#000"/>
  <circle cx="1215" cy="815" r="335" fill="#fff"/>
  <circle cx="1215" cy="815" r="251" fill="#000"/>
  <path d="M1062,842 L1196,922 L1337,680" fill="none" stroke="#fff" stroke-width="60"/>
</g>
<!-- COO/CFO -->
<g transform="translate(1960,650) scale(0.10730)">
  <path d="M720,160 C640,160 590,200 555,250 C490,265 462,310 462,370 C462,430 485,470 495,512 C475,515 470,530 472,560 C478,620 495,675 525,682 C545,730 580,800 620,840 C660,875 710,890 750,890 C800,890 850,870 890,820 C920,780 945,730 962,686 C995,675 1012,620 1017,560 C1018,530 1012,518 992,512 C1005,470 1012,430 1005,370 C990,250 880,160 720,160 Z" fill="#000"/>
  <path d="M525,900 L225,1010 C185,1030 175,1080 172,1120 L168,1215 C170,1250 200,1265 240,1275 C400,1310 600,1322 745,1322 C900,1322 1100,1310 1250,1275 C1295,1262 1320,1245 1322,1210 L1315,1110 C1312,1070 1300,1030 1265,1010 L965,900 L820,1150 C815,1080 800,1020 775,965 L715,965 C690,1020 675,1080 670,1150 Z" fill="#000"/>
</g>
<!-- presenter -->
<g transform="translate(1720,680) scale(0.093923)">
  <path d="M1120,940 L935,1340 M1250,940 L1435,1340" stroke="#000" stroke-width="76" stroke-linecap="round" fill="none"/>
  <rect x="702" y="134" width="947" height="787" rx="22" fill="#fff" stroke="#000" stroke-width="38"/>
  <path d="M908,310 V692 H1455" stroke="#000" stroke-width="28" fill="none"/>
  <path d="M975,552 L1165,412 L1250,510 L1392,395" stroke="#000" stroke-width="60" fill="none"/>
  <path d="M1310,325 H1458 V470 Z" fill="#000"/>
  <ellipse cx="387" cy="240" rx="112" ry="118" fill="#000"/>
  <path d="M275,250 C275,300 270,320 252,338 C275,370 310,382 335,382 L440,382 C470,382 500,370 522,338 C505,320 500,300 500,250 Z" fill="#000"/>
  <path d="M300,425 C280,435 265,450 260,480 L262,600 C265,640 275,670 282,695 C260,760 240,830 232,912 L545,912 C540,830 520,760 492,695 C500,670 510,620 512,560 L512,480 C505,450 495,435 470,425 Z" fill="#000"/>
  <path d="M310,412 L290,472 L352,476 L387,522 L424,476 L482,472 L465,412 L387,466 Z" fill="#fff"/>
  <path d="M330,370 H445 V408 L387,466 L330,408 Z" fill="#000"/>
  <path d="M290,428 C205,475 172,560 155,640 L118,885 C115,915 135,937 160,937 C185,937 200,920 205,890 L240,640 C248,600 255,570 268,545 Z" fill="#000"/>
  <path d="M470,425 C540,450 590,540 622,645 L775,735 C790,760 780,790 755,800 C735,805 715,795 700,780 L560,705 C540,690 535,670 530,640 L505,545 Z" fill="#000"/>
  <path d="M265,905 H380 L375,1320 C375,1350 355,1375 327,1375 C298,1375 280,1350 278,1320 Z" fill="#000"/>
  <path d="M392,905 H510 L498,1320 C496,1350 478,1375 448,1375 C420,1375 400,1350 398,1320 Z" fill="#000"/>
  <path d="M760,750 L965,545" stroke="#000" stroke-width="15" fill="none"/>
</g>
<!-- operative controller -->
<g transform="translate(1550,1130) scale(0.083829)">
  <path d="M688,170 C570,170 490,260 490,390 C490,440 500,480 495,500 C485,525 465,540 445,545 C470,600 530,630 580,630 L580,690 L688,790 L800,690 L800,630 C850,630 905,600 930,545 C910,540 890,525 882,500 C878,480 890,440 888,390 C888,260 800,170 688,170 Z" fill="#000"/>
  <path d="M540,708 C440,745 350,840 300,990 C265,1100 245,1230 225,1358 L380,1358 C395,1250 420,1100 465,985 C465,1060 475,1130 490,1180 C475,1240 455,1300 435,1358 L940,1358 C920,1300 895,1240 880,1180 C900,1130 910,1060 910,985 C950,1100 975,1250 995,1358 L1150,1358 C1130,1230 1110,1100 1075,990 C1030,840 940,745 838,708 L850,795 L775,800 L688,885 L600,800 L520,795 Z" fill="#000"/>
  <circle cx="1150" cy="760" r="292" fill="#fff05a"/>
  <circle cx="1150" cy="760" r="263" fill="#000"/>
  <path d="M985,782 L1100,893 L1317,650" fill="none" stroke="#fff05a" stroke-width="76"/>
</g>

</g>
</svg>
</body>
</html>
